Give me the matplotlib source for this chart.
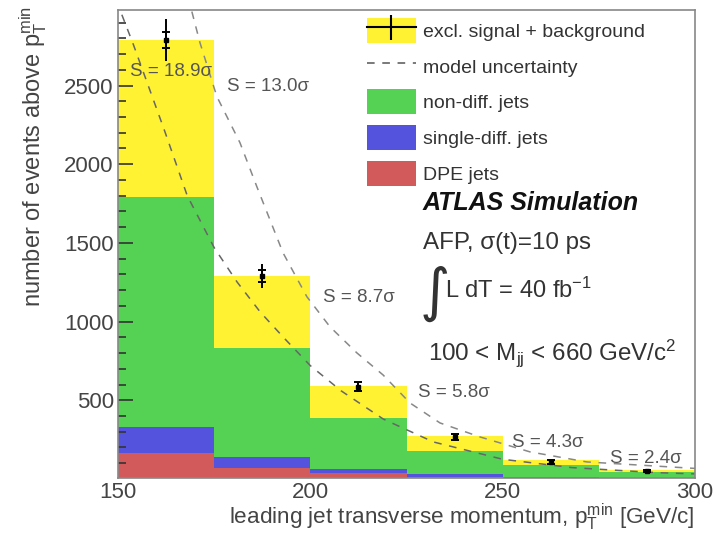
#%%
# --> Import libraries
import matplotlib.pyplot as plt
from matplotlib.patches import Patch
from matplotlib.lines import Line2D
from matplotlib.ticker import MultipleLocator

plt.rcParams['font.family'] = ['Liberation Sans', 'DejaVu Sans']
plt.rcParams['mathtext.fontset'] = 'custom'
plt.rcParams['mathtext.rm'] = 'Liberation Sans'
plt.rcParams['mathtext.it'] = 'Liberation Sans:italic'
plt.rcParams['mathtext.bf'] = 'Liberation Sans:bold'


#%%
# --> Values
bin_edges = [150, 175, 200, 225, 250, 275, 300]
dpe_jets = [165, 70, 40, 15, 6, 3]
single_diff = [165, 70, 25, 15, 6, 3]
non_diff = [1460, 695, 325, 150, 78, 40]
excl_signal = [1000, 455, 200, 90, 30, 14]

pseudo_data = [2790, 1290, 587, 266, 108, 51]
stat_err = [52, 38, 26, 18, 10, 7]
total_err = [135, 75, 32, 20, 12, 8]

significance = [18.9, 13.0, 8.7, 5.8, 4.3, 2.4]

# model uncertainty band edges (dashed curves)
inner_x = [151, 154, 158, 162, 168, 175, 181, 187, 193, 200, 208, 219, 232, 250, 268, 290, 300]
inner_y = [2950, 2760, 2490, 2220, 1800, 1470, 1250, 1060, 900, 720, 560, 380, 235, 125, 72, 40, 32]
outer_x = [169.2, 171.3, 175.7, 181.7, 186.1, 192.9, 199.1, 205.1, 212.1, 218.9, 225.9, 233.7, 244.1, 257.1, 271.9, 297.9, 300]
outer_y = [2970, 2773, 2430, 2137, 1857, 1437, 1158, 967, 801, 661, 483, 356, 267, 172, 108, 70, 67]

# where the S labels sit (data coords, left edge / centre)
label_x = [153.1, 178.3, 203.3, 228.0, 252.4, 277.9]
label_y = [2589, 2493, 1151, 547, 229, 127]


#%%
# --> Figure
W, H = 722, 534
fig = plt.figure(figsize=(W / 100, H / 100), dpi=100)
ax = fig.add_axes([118 / W, 1 - 478 / H, (695 - 118) / W, (478 - 10) / H])

def px(x, y):
    return x / W, 1 - y / H

yellow, green, blue, red = '#FFF232', '#55D253', '#5353DD', '#D25A5A'

lefts = bin_edges[:-1]
widths = [bin_edges[i + 1] - bin_edges[i] for i in range(len(lefts))]
centers = [l + w / 2 for l, w in zip(lefts, widths)]

bottom = [0] * len(lefts)
for vals, col in [(dpe_jets, red), (single_diff, blue), (non_diff, green), (excl_signal, yellow)]:
    ax.bar(lefts, vals, width=widths, bottom=bottom, align='edge', color=col, linewidth=0)
    bottom = [b + v for b, v in zip(bottom, vals)]

ax.plot(inner_x, inner_y, color='#666666', lw=1.1, ls=(0, (5, 5)))
ax.plot(outer_x, outer_y, color='#888888', lw=1.1, ls=(0, (5, 5)))

ax.errorbar(centers, pseudo_data, yerr=total_err, fmt='none', ecolor='k', elinewidth=1.4)
ax.errorbar(centers, pseudo_data, yerr=stat_err, fmt='s', color='k', ms=3, elinewidth=1.4, capsize=3, capthick=1.4)

for s, x, y in zip(significance, label_x, label_y):
    ax.text(x, y, f'S = {s:.1f}σ', fontsize=13.5, color='#555555', ha='left', va='center')

ax.set_xlim(150, 300)
ax.set_ylim(6, 2980)
ax.set_xticks([150, 200, 250, 300])
ax.set_yticks([500, 1000, 1500, 2000, 2500])
ax.yaxis.set_minor_locator(MultipleLocator(100))
ax.tick_params(axis='y', which='major', direction='in', length=10.5, width=1.2, color='#333333',
               labelsize=16, labelcolor='#444444', pad=3, right=False)
ax.tick_params(axis='y', which='minor', direction='in', length=5.5, width=1.2, color='#333333', right=False)
ax.tick_params(axis='x', length=0, labelsize=16, labelcolor='#444444', pad=3)
for sp in ax.spines.values():
    sp.set_color('#888888')
    sp.set_linewidth(1.2)


#%%
# --> Legend and annotations
handles = [(Patch(fc=yellow), Line2D([], [], color='k', lw=1.5, marker='|', ms=18, mew=1.5)),
           Line2D([], [], color='#555555', lw=1.1, ls=(0, (5, 5))),
           Patch(fc=green), Patch(fc=blue), Patch(fc=red)]
labels = ['excl. signal + background', 'model uncertainty', 'non-diff. jets', 'single-diff. jets', 'DPE jets']
leg = ax.legend(handles, labels, loc='upper left', bbox_to_anchor=px(367, 18), bbox_transform=fig.transFigure,
                frameon=False, fontsize=14, handlelength=2.5, handleheight=1.6, handletextpad=0.4,
                labelspacing=0.55, borderpad=0, borderaxespad=0)
for t in leg.get_texts():
    t.set_color('#333333')

fig.text(*px(423, 203), 'ATLAS Simulation', fontsize=18, fontweight='bold', fontstyle='italic',
         color='#111111', va='center')
fig.text(*px(423, 243), 'AFP, σ(t)=10 ps', fontsize=17.4, color='#333333', va='center')
fig.text(*px(420, 294), '∫', fontsize=42, color='#333333', va='center', family='DejaVu Sans')
fig.text(*px(445, 290), 'L dT = 40 fb$^{-1}$', fontsize=17, color='#333333', va='center')
fig.text(*px(428, 353), '100 < M$_{\\mathrm{jj}}$ < 660 GeV/c$^{2}$', fontsize=17.4, color='#333333', va='center')

fig.text(*px(695, 517), 'leading jet transverse momentum, $\\mathrm{p}_\\mathrm{T}^\\mathrm{min}$ [GeV/c]',
         fontsize=16.2, color='#444444', ha='right', va='center')
fig.text(*px(33, 6), 'number of events above $\\mathrm{p}_\\mathrm{T}^\\mathrm{min}$',
         fontsize=17, color='#444444', rotation=90, ha='center', va='top')

fig.savefig('out.png', dpi=100)
